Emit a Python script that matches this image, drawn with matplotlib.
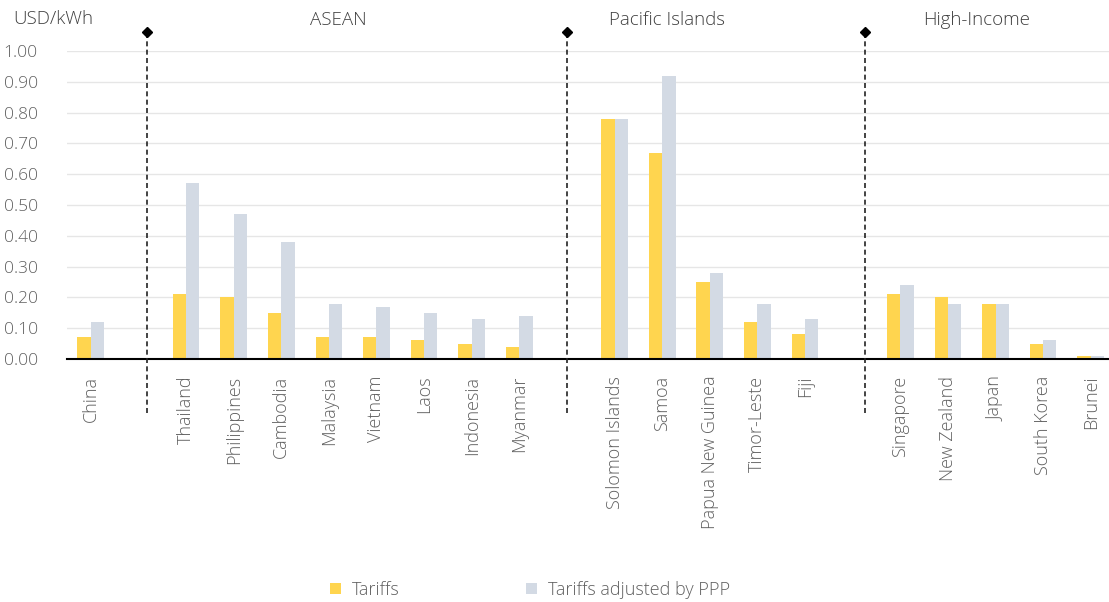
import matplotlib.pyplot as plt
import numpy as np

yellow = "#FFD54F"
grey = "#D3DAE4"
text_grey = "#606060"

# countries in slot order, "" marks an empty slot between groups
countries = ["China", "",
	"Thailand", "Philippines", "Cambodia", "Malaysia", "Vietnam", "Laos", "Indonesia", "Myanmar", "",
	"Solomon Islands", "Samoa", "Papua New Guinea", "Timor-Leste", "Fiji", "",
	"Singapore", "New Zealand", "Japan", "South Korea", "Brunei"]

tariffs = [0.07, None,
	0.21, 0.20, 0.15, 0.07, 0.07, 0.06, 0.05, 0.04, None,
	0.78, 0.67, 0.25, 0.12, 0.08, None,
	0.21, 0.20, 0.18, 0.05, 0.01]

tariffs_ppp = [0.12, None,
	0.57, 0.47, 0.38, 0.18, 0.17, 0.15, 0.13, 0.14, None,
	0.78, 0.92, 0.28, 0.18, 0.13, None,
	0.24, 0.18, 0.18, 0.06, 0.01]

groups = ["ASEAN", "Pacific Islands", "High-Income"]
group_label_x = [5.2, 12.1, 18.6]
divider_x = [1.18, 10.0, 16.25]

yticks = np.arange(0, 1.01, 0.1)

plt.rcParams['font.family'] = ['Open Sans', 'DejaVu Sans']
plt.rcParams['font.weight'] = 'light'

fig = plt.figure(figsize=(11.09, 6.02), dpi=100)
ax = fig.add_axes([0.0604, 0.4037, 0.9446, 0.5116])

x = np.arange(len(countries))
w = 0.28
keep = [i for i, c in enumerate(countries) if c]
ax.bar(x[keep] - w / 2, [tariffs[i] for i in keep], width=w, color=yellow, label="Tariffs", zorder=2)
ax.bar(x[keep] + w / 2, [tariffs_ppp[i] for i in keep], width=w, color=grey, label="Tariffs adjusted by PPP", zorder=2)

ax.set_xlim(-0.5, len(countries) - 0.5)
ax.set_ylim(0, 1.0)
ax.set_yticks(yticks)
ax.set_yticklabels([f"{v:.2f}" for v in yticks])
ax.yaxis.grid(True, color="#E6E6E6", linewidth=1, zorder=0)
ax.set_axisbelow(True)

ax.set_xticks(x[keep])
ax.set_xticklabels([countries[i] for i in keep], rotation=90, va="top")

for s in ["top", "right", "left"]:
	ax.spines[s].set_visible(False)
ax.spines["bottom"].set_color("black")
ax.spines["bottom"].set_linewidth(1.5)
ax.spines["bottom"].set_zorder(3)

ax.tick_params(axis="y", length=0, pad=21, labelsize=12.5, labelcolor=text_grey)
ax.tick_params(axis="x", length=0, pad=12, labelsize=13, labelcolor=text_grey)

# dashed dividers between country groups, with a diamond on top
for dx in divider_x:
	ax.plot([dx, dx], [-0.175, 1.06], linestyle=(0, (3, 2)), color="#222222", linewidth=1.2, clip_on=False, zorder=4)
	ax.plot([dx], [1.062], marker="D", markersize=5, color="black", clip_on=False, zorder=5)

for gx, g in zip(group_label_x, groups):
	ax.text(gx, 1.10, g, ha="center", va="center", fontsize=13.5, color="#404040", clip_on=False)

fig.text(0.012, 0.968, "USD/kWh", ha="left", va="center", fontsize=13.5, color="#404040")

fig.legend(loc="center", bbox_to_anchor=(0.478, 0.02), ncol=2, frameon=False, fontsize=13,
	handlelength=0.6, handleheight=0.6, columnspacing=7.0, handletextpad=0.6, labelcolor=text_grey)

fig.savefig("out.png", dpi=100)
